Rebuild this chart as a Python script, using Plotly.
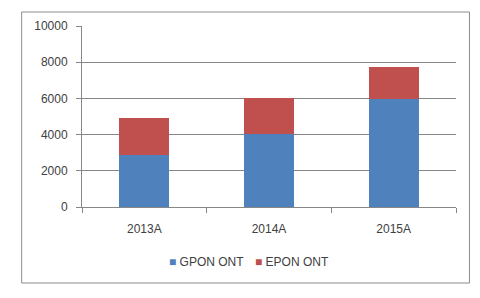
import plotly.graph_objects as go

categories = ["2013A", "2014A", "2015A"]
gpon = [2870, 4030, 5950]
epon = [2050, 1970, 1800]
y_ticks = [0, 2000, 4000, 6000, 8000, 10000]
series_names = ["GPON ONT", "EPON ONT"]
series_colors = ["#4F81BD", "#C0504D"]

W, H = 480, 298
l, r, t, b = 81.5, 23.5, 26, 91
pw, ph = W - l - r, H - t - b

def px(x):
    return (x - l) / pw

def py(y):
    return (H - b - y) / ph

fig = go.Figure()
for name, vals, col in zip(series_names, [gpon, epon], series_colors):
    fig.add_trace(go.Bar(name=name, x=categories, y=vals, marker_color=col,
                         marker_line_width=0, width=0.4, showlegend=False))

legend_x = [167, 253]
annotations = []
for name, col, lx in zip(series_names, series_colors, legend_x):
    annotations.append(dict(
        xref="paper", yref="paper", x=px(lx), y=py(262), xanchor="left", yanchor="middle",
        text=f"<span style='color:{col};font-size:12px'>■</span> {name}",
        showarrow=False, font=dict(size=12, color="#404040")))

fig.update_layout(
    barmode="stack",
    width=W, height=H,
    margin=dict(l=l, r=r, t=t, b=b, pad=0),
    paper_bgcolor="white", plot_bgcolor="white",
    font=dict(family="Liberation Sans, Arial, sans-serif", size=12, color="#404040"),
    showlegend=False,
    annotations=annotations,
    xaxis=dict(type="category", showline=True, linecolor="#868686", linewidth=1,
               ticks="outside", tickson="boundaries", ticklen=5, tickcolor="#868686",
               showgrid=False, ticklabelstandoff=11,
               tickfont=dict(size=12, color="#404040")),
    yaxis=dict(range=[0, 10000], tickvals=y_ticks, ticktext=[str(v) for v in y_ticks],
               showline=True, linecolor="#868686", linewidth=1,
               ticks="outside", ticklen=5, tickcolor="#868686",
               showgrid=True, gridcolor="#868686", gridwidth=1, zeroline=False,
               ticklabelstandoff=6,
               tickfont=dict(size=12, color="#404040")),
    shapes=[dict(type="rect", xref="paper", yref="paper",
                 x0=px(21), x1=px(470), y0=py(283), y1=py(12),
                 line=dict(color="#8c8c8c", width=1), fillcolor="rgba(0,0,0,0)", layer="below")],
)

fig.write_html("out.html")
